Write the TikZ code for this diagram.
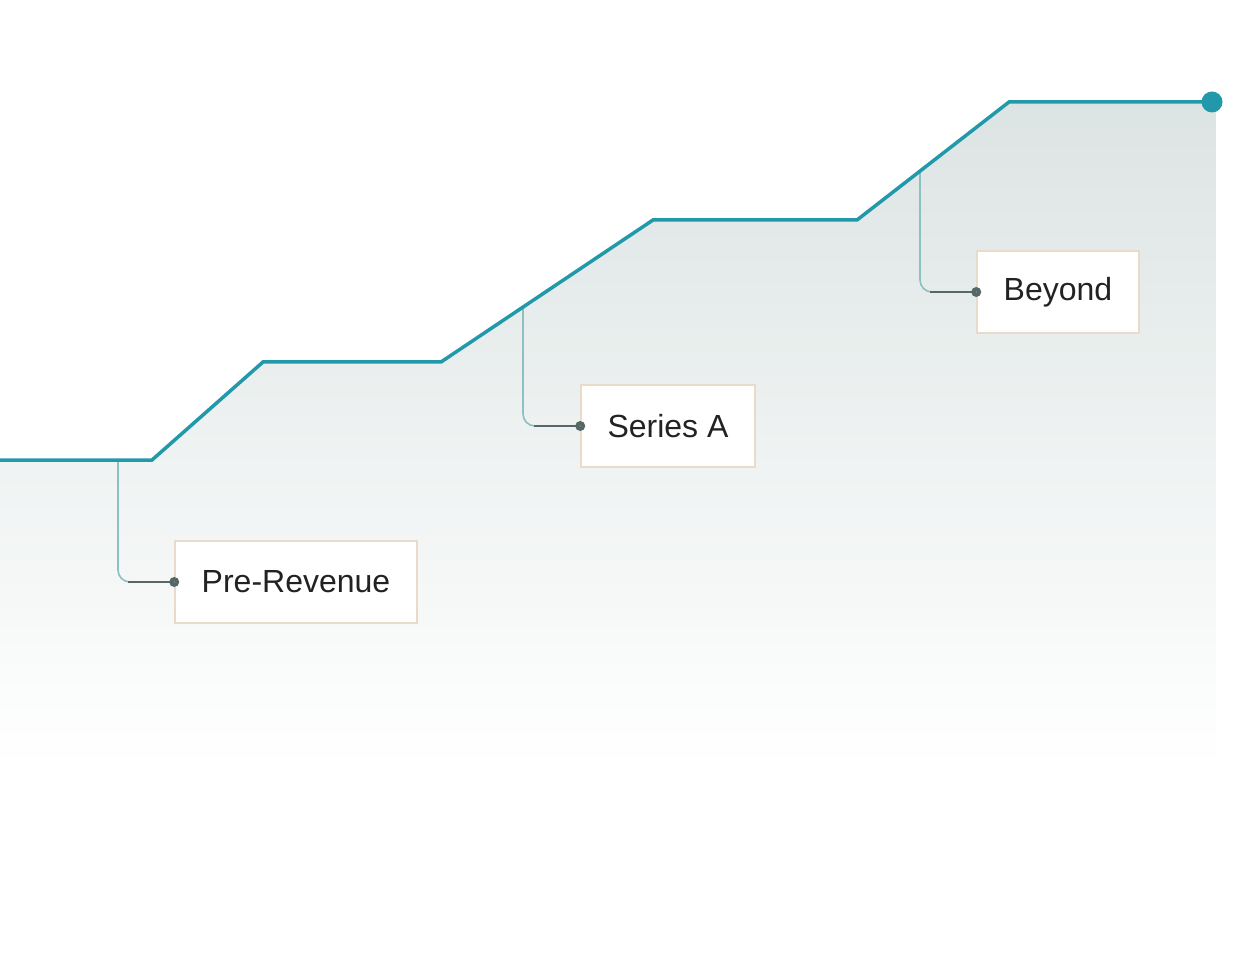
\documentclass[tikz,border=0pt]{standalone}
\usepackage{fontspec}
\setmainfont{Liberation Sans}
\definecolor{stepline}{HTML}{2199AB}
\definecolor{areatop}{HTML}{DCE4E3}
\definecolor{boxedge}{HTML}{E8DBCA}
\definecolor{linkdark}{HTML}{566866}
\definecolor{linklight}{HTML}{8DBFC3}
\definecolor{textdark}{HTML}{222222}
\begin{document}
\begin{tikzpicture}[x=1pt,y=1pt,
    stage/.style={draw=boxedge,fill=white,line width=1.5pt,minimum height=82pt,inner xsep=0pt,font=\fontsize{32}{38}\selectfont,text=textdark},
    pin/.style={circle,fill=linkdark,inner sep=0pt,minimum size=10pt},
    riser/.style={draw=linklight,line width=1.6pt,rounded corners=12pt},
    tail/.style={draw=linkdark,line width=1.6pt}]
  \useasboundingbox (0,0) rectangle (1256,-976);
  % points of the step line
  \coordinate (s0) at (0,-460);
  \coordinate (s1) at (152,-460);
  \coordinate (s2) at (263,-362);
  \coordinate (s3) at (441,-362);
  \coordinate (s4) at (653,-220);
  \coordinate (s5) at (857,-220);
  \coordinate (s6) at (1009,-102);
  \coordinate (s7) at (1212,-102);
  % shaded area under the line
  \begin{scope}
    \clip (s0) -- (s1) -- (s2) -- (s3) -- (s4) -- (s5) -- (s6) -- (1216,-102) -- (1216,-800) -- (0,-800) -- cycle;
    \shade[top color=areatop,bottom color=white] (0,-100) rectangle (1216,-770);
  \end{scope}
  % stage boxes
  \node[stage,minimum width=242pt] (pr) at (296,-582) {Pre-Revenue};
  \node[stage,minimum width=174pt] (sa) at (668,-426) {Series A};
  \node[stage,minimum width=162pt] (by) at (1058,-292) {Beyond};
  \node[pin] (pr-dot) at (pr.west) {};
  \node[pin] (sa-dot) at (sa.west) {};
  \node[pin] (by-dot) at (by.west) {};
  % connectors
  \coordinate (pr-top) at (118,-460);
  \coordinate (sa-top) at (523,-307);
  \coordinate (by-top) at (920,-170);
  \foreach \s in {pr,sa,by}{
    \draw[riser] (\s-top) |- (\s-dot.center);
    \draw[tail] ([xshift=-46pt]\s-dot.center) -- (\s-dot.center);
  }
  % step line
  \draw[stepline,line width=3.5pt,line join=miter] (s0) -- (s1) -- (s2) -- (s3) -- (s4) -- (s5) -- (s6) -- (s7);
  \node[circle,fill=stepline,inner sep=0pt,minimum size=21pt] (end) at (s7) {};
\end{tikzpicture}
\end{document}
